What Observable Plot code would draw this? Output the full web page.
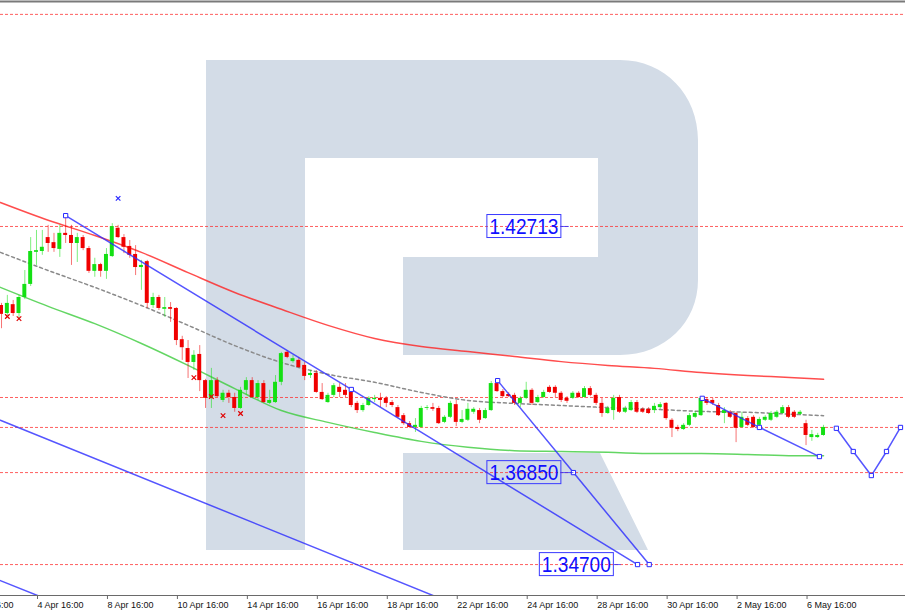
<!DOCTYPE html>
<html><head><meta charset="utf-8">
<script src="https://cdn.jsdelivr.net/npm/d3@7"></script>
<script src="https://cdn.jsdelivr.net/npm/@observablehq/plot@0.6"></script>
<style>
html,body{margin:0;padding:0;background:#fff;}
#chart svg{display:block;}
</style>
</head><body><div id="chart"></div>
<script>
// ---- candle data (4H bars, index 0 = 4 Apr 16:00) ----
const barIdx = d3.range(-6, 136);
const open = [1.4084,1.4065,1.4086,1.4065,1.4103,1.4134,
1.4210,1.4212,1.4245,1.4233,1.4217,1.4255,1.4250,1.4231,1.4245,1.4219,1.4165,1.4181,
1.4165,1.4200,1.4267,1.4245,1.4224,1.4205,1.4174,1.4188,1.4084,1.4103,1.4075,1.4079,
1.4077,1.4003,1.3982,1.3949,1.3968,1.3906,1.3864,1.3906,1.3859,1.3876,1.3866,1.3840,
1.3883,1.3906,1.3866,1.3899,1.3852,1.3854,1.3902,1.3973,1.3951,1.3954,1.3942,1.3918,
1.3923,1.3878,1.3854,1.3871,1.3890,1.3883,1.3878,1.3852,1.3835,1.3847,1.3861,1.3864,
1.3864,1.3854,1.3842,1.3823,1.3804,1.3795,1.3795,1.3840,1.3842,1.3840,1.3807,1.3819,
1.3849,1.3807,1.3812,1.3831,1.3835,1.3816,1.3835,1.3899,1.3880,1.3873,1.3871,1.3852,
1.3864,1.3883,1.3854,1.3866,1.3890,1.3890,1.3876,1.3864,1.3864,1.3876,1.3866,1.3887,
1.3871,1.3852,1.3828,1.3835,1.3866,1.3831,1.3835,1.3854,1.3838,1.3838,1.3835,1.3842,
1.3852,1.3812,1.3795,1.3790,1.3800,1.3819,1.3823,1.3861,1.3859,1.3847,1.3828,1.3831,
1.3828,1.3795,1.3816,1.3819,1.3800,1.3812,1.3812,1.3819,1.3828,1.3842,1.3831,1.3826,
1.3804,1.3771,1.3771,1.3776];
const high = [1.4089,1.4108,1.4096,1.4108,1.4167,1.4245,
1.4262,1.4262,1.4274,1.4255,1.4274,1.4293,1.4274,1.4255,1.4250,1.4224,1.4196,1.4184,
1.4219,1.4278,1.4274,1.4252,1.4238,1.4226,1.4191,1.4191,1.4113,1.4108,1.4103,1.4091,
1.4079,1.4011,1.4001,1.3977,1.3989,1.3909,1.3935,1.3913,1.3883,1.3883,1.3876,1.3890,
1.3913,1.3913,1.3906,1.3906,1.3883,1.3918,1.3973,1.3977,1.3966,1.3961,1.3949,1.3930,
1.3930,1.3899,1.3876,1.3899,1.3899,1.3899,1.3887,1.3857,1.3852,1.3868,1.3871,1.3876,
1.3868,1.3859,1.3847,1.3828,1.3809,1.3816,1.3845,1.3847,1.3852,1.3845,1.3823,1.3857,
1.3859,1.3835,1.3852,1.3842,1.3840,1.3840,1.3904,1.3909,1.3885,1.3878,1.3876,1.3868,
1.3902,1.3887,1.3871,1.3883,1.3894,1.3894,1.3880,1.3868,1.3880,1.3880,1.3892,1.3892,
1.3876,1.3864,1.3845,1.3871,1.3871,1.3845,1.3859,1.3859,1.3842,1.3842,1.3852,1.3854,
1.3854,1.3816,1.3800,1.3804,1.3828,1.3833,1.3866,1.3866,1.3864,1.3852,1.3842,1.3835,
1.3831,1.3831,1.3821,1.3823,1.3819,1.3823,1.3833,1.3835,1.3847,1.3847,1.3835,1.3835,
1.3812,1.3788,1.3781,1.3800];
const low = [1.4029,1.4060,1.4058,1.4053,1.4098,1.4129,
1.4179,1.4203,1.4210,1.4210,1.4198,1.4231,1.4179,1.4186,1.4214,1.4160,1.4151,1.4151,
1.4146,1.4198,1.4243,1.4207,1.4196,1.4155,1.4120,1.4077,1.4077,1.4072,1.4056,1.4044,
1.3989,1.3954,1.3911,1.3930,1.3880,1.3840,1.3840,1.3866,1.3854,1.3852,1.3831,1.3838,
1.3871,1.3864,1.3859,1.3852,1.3849,1.3852,1.3894,1.3958,1.3947,1.3935,1.3906,1.3911,
1.3876,1.3859,1.3852,1.3866,1.3866,1.3866,1.3842,1.3828,1.3831,1.3845,1.3854,1.3842,
1.3842,1.3842,1.3816,1.3800,1.3793,1.3783,1.3793,1.3835,1.3833,1.3802,1.3804,1.3816,
1.3797,1.3804,1.3809,1.3826,1.3804,1.3814,1.3833,1.3878,1.3866,1.3866,1.3847,1.3842,
1.3861,1.3847,1.3852,1.3864,1.3876,1.3866,1.3854,1.3852,1.3861,1.3864,1.3864,1.3868,
1.3847,1.3819,1.3826,1.3812,1.3828,1.3828,1.3833,1.3828,1.3828,1.3826,1.3828,1.3838,
1.3812,1.3771,1.3785,1.3788,1.3797,1.3816,1.3821,1.3847,1.3847,1.3821,1.3804,1.3816,
1.3759,1.3793,1.3797,1.3793,1.3797,1.3809,1.3809,1.3816,1.3826,1.3816,1.3816,1.3823,
1.3752,1.3762,1.3769,1.3774];
const close = [1.4063,1.4089,1.4065,1.4103,1.4134,1.4212,
1.4214,1.4222,1.4231,1.4219,1.4255,1.4250,1.4231,1.4245,1.4219,1.4165,1.4181,1.4165,
1.4205,1.4271,1.4245,1.4222,1.4203,1.4174,1.4179,1.4089,1.4103,1.4077,1.4079,1.4075,
1.4001,1.3984,1.3949,1.3966,1.3906,1.3864,1.3906,1.3868,1.3876,1.3866,1.3840,1.3883,
1.3906,1.3866,1.3899,1.3854,1.3859,1.3902,1.3970,1.3961,1.3958,1.3937,1.3916,1.3923,
1.3878,1.3861,1.3871,1.3894,1.3878,1.3871,1.3847,1.3835,1.3847,1.3864,1.3864,1.3859,
1.3852,1.3847,1.3819,1.3804,1.3795,1.3800,1.3840,1.3842,1.3838,1.3804,1.3819,1.3852,
1.3807,1.3814,1.3838,1.3838,1.3812,1.3835,1.3899,1.3880,1.3868,1.3868,1.3852,1.3864,
1.3883,1.3852,1.3866,1.3878,1.3878,1.3876,1.3859,1.3857,1.3876,1.3866,1.3887,1.3871,
1.3852,1.3828,1.3840,1.3864,1.3831,1.3840,1.3854,1.3831,1.3831,1.3828,1.3845,1.3849,
1.3816,1.3793,1.3790,1.3800,1.3823,1.3828,1.3864,1.3852,1.3852,1.3823,1.3835,1.3819,
1.3793,1.3819,1.3800,1.3795,1.3814,1.3819,1.3828,1.3831,1.3842,1.3819,1.3819,1.3831,
1.3776,1.3778,1.3776,1.3795];

// ---- moving averages, read at knots ----
const maIdx   = [-6.2,2,10,18,26,34,42,50,58,66,74,82,90,98,106,114,122,130,135];
const maSlow  = [1.4328,1.4286,1.4250,1.4210,1.4162,1.4115,1.4075,1.4037,1.4006,1.3987,1.3975,1.3963,1.3951,1.3942,1.3935,1.3925,1.3918,1.3913,1.3909];
const maMid   = [1.4210,1.4167,1.4127,1.4084,1.4037,1.3989,1.3949,1.3921,1.3902,1.3878,1.3859,1.3852,1.3847,1.3842,1.3838,1.3833,1.3831,1.3826,1.3823];
const maFast  = [1.4127,1.4082,1.4041,1.3994,1.3942,1.3887,1.3835,1.3807,1.3783,1.3762,1.3748,1.3740,1.3738,1.3736,1.3733,1.3733,1.3731,1.3728,1.3728];

// ---- levels, forecast lines, markers ----
const levels = [1.4774, 1.42713, 1.3866, 1.3795, 1.3688, 1.3470];
const fcLines = [
  {name:"t1", idx:[5.0,54.0,103.1],          price:[1.4297,1.3885,1.3470], marks:true},
  {name:"t2", idx:[79.1,92.1,105.1],         price:[1.3906,1.3688,1.3470], marks:true},
  {name:"t3", idx:[114.2,124.0,134.3],       price:[1.3864,1.3795,1.3726], marks:true},
  {name:"fc", idx:[137.2,140.1,143.2,145.8,148.2], price:[1.3793,1.3738,1.3681,1.3738,1.3795], marks:true},
  {name:"cA", idx:[-6.2,74.4],               price:[1.3812,1.3361], marks:false},
  {name:"cB", idx:[-6.2,4.1],                price:[1.3432,1.3375], marks:false}
];
const redX = {idx:[-5,-3,27,30,32,35], price:[1.4058,1.4053,1.3913,1.3868,1.3823,1.3828]};
const blueX = {idx:[14], price:[1.4338]};
const labelText  = ["1.42713","1.36850","1.34700"];
const labelIdx   = [83.6, 83.6, 92.6];
const labelPrice = [1.42713, 1.3688, 1.3470];
const connFrom = [89.9, 89.9, 99.0];
const connTo   = [91.3, 92.1, 100.2];

// ---- axis ticks ----
const tickIdx = [-12,0,12,24,36,48,60,72,84,96,108,120,132];
const tickLabels = ["2 Apr 16:00","4 Apr 16:00","8 Apr 16:00","10 Apr 16:00","14 Apr 16:00","16 Apr 16:00","18 Apr 16:00","22 Apr 16:00","24 Apr 16:00","28 Apr 16:00","30 Apr 16:00","2 May 16:00","6 May 16:00"];

// ---- build tables ----
const bars = barIdx.map((i,k)=>({i, o:open[k], h:high[k], l:low[k], c:close[k], up: close[k] >= open[k]}));
const ma = (arr) => maIdx.map((x,k)=>({x, y:arr[k]}));
const fcPts = fcLines.flatMap(l => l.idx.map((x,k)=>({x, y:l.price[k], name:l.name, m:l.marks})));
const labels = labelText.map((t,k)=>({t, x:labelIdx[k], y:labelPrice[k]}));
const conns = labelText.map((t,k)=>({x1:connFrom[k], x2:connTo[k], y:labelPrice[k]}));
const tickMap = new Map(tickIdx.map((d,k)=>[d, tickLabels[k]]));

const GREEN = "#14e014", RED = "#f00000", BLUE = "#2a2aff";
const yDom = [1.33967, 1.48069];

function watermark(index, scales, values, dims) {
  const g = d3.create("svg:g");
  g.append("path").attr("fill", "#d3dce7")
    .attr("d", "M206,60H620C665,60 698,95 698,140V280C698,322 665,355 620,355H403V257H598V158H305V550H206Z M403,453H600L648,550H403Z");
  return g.node();
}

const plot = Plot.plot({
  width: 905, height: 613,
  marginTop: 0, marginBottom: 18, marginLeft: 0, marginRight: 0,
  style: {fontFamily: "'Liberation Sans', Arial, sans-serif", fontSize: "9px", background: "#fff", overflow: "visible"},
  x: {type: "linear", domain: [-6.175, 149.06], axis: null},
  y: {domain: yDom, axis: null},
  marks: [
    watermark,
    Plot.ruleY(levels, {stroke: "#ff2a2a", strokeOpacity: 0.75, strokeDasharray: "3,2"}),
    Plot.line(ma(maSlow), {x:"x", y:"y", stroke: "#ff2020", strokeOpacity: 0.8, curve: "monotone-x", clip: true}),
    Plot.line(ma(maMid), {x:"x", y:"y", stroke: "#8a8a8a", strokeDasharray: "3,3", curve: "monotone-x", clip: true}),
    Plot.line(ma(maFast), {x:"x", y:"y", stroke: "#3ccc3c", strokeOpacity: 0.8, curve: "monotone-x", clip: true}),
    Plot.ruleX(bars, {x:"i", y1:"l", y2:"h", stroke: d => d.up ? GREEN : RED, strokeOpacity: 0.55}),
    Plot.rect(bars, {x1: d => d.i - 0.34, x2: d => d.i + 0.34, y1:"o", y2:"c", fill: d => d.up ? GREEN : RED}),
    Plot.dot(redX.idx.map((x,k)=>({x, y:redX.price[k]})), {x:"x", y:"y", symbol:"times", r: 2.2, stroke: "#e00000", strokeWidth: 1.2}),
    Plot.dot(blueX.idx.map((x,k)=>({x, y:blueX.price[k]})), {x:"x", y:"y", symbol:"times", r: 2.2, stroke: BLUE, strokeWidth: 1.2}),
    Plot.line(fcPts, {x:"x", y:"y", z:"name", stroke: BLUE, strokeOpacity: 0.8, clip: true}),
    Plot.dot(fcPts.filter(d=>d.m), {x:"x", y:"y", symbol:"square", r: 2.4, stroke: BLUE, fill: "#fff", strokeWidth: 1}),
    Plot.link(conns, {x1:"x1", x2:"x2", y1:"y", y2:"y", stroke: BLUE, strokeOpacity: 0.8}),
    Plot.text(labels, {x:"x", y:"y", text:"t", fill: "#1010ff", fontSize: 22,
      fontFamily: "'Liberation Sans Narrow', 'Liberation Sans', Arial, sans-serif"}),
    Plot.ruleY([yDom[1]], {stroke: "#7a7a7a", strokeWidth: 2, dy: 1}),
    Plot.ruleY([yDom[0]], {stroke: "#6a6a6a", strokeWidth: 1}),
    Plot.axisX(tickIdx, {tickFormat: d => tickMap.get(d), tickSize: 4, tickPadding: 2, textAnchor: "start", dx: 1,
      stroke: "#6a6a6a", fill: "#111", fontSize: 9})
  ]
});
document.getElementById("chart").appendChild(plot);

// boxes around price labels
d3.select(plot).selectAll("text").each(function() {
  if (!labelText.includes(this.textContent)) return;
  this.setAttribute("textLength", "69");
  this.setAttribute("lengthAdjust", "spacingAndGlyphs");
  const b = this.getBBox();
  const cy = b.y + b.height / 2;
  const r = document.createElementNS("http://www.w3.org/2000/svg", "rect");
  r.setAttribute("x", b.x - 2.5);
  r.setAttribute("y", cy - 11.5);
  r.setAttribute("width", b.width + 5);
  r.setAttribute("height", 23);
  r.setAttribute("fill", "none");
  r.setAttribute("stroke", "#3a3aff");
  r.setAttribute("stroke-width", "1");
  const t = this.getAttribute("transform");
  if (t) r.setAttribute("transform", t);
  this.parentNode.insertBefore(r, this);
});
</script>
</body></html>
